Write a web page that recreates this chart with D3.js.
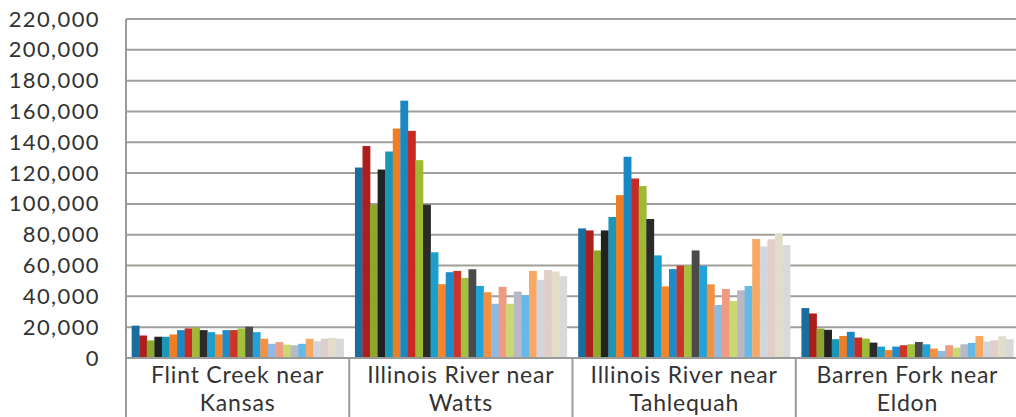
<!DOCTYPE html>
<html>
<head>
<meta charset="utf-8">
<script src="https://cdn.jsdelivr.net/npm/d3@7"></script>
<style>
  body { margin: 0; background: #fff; }
  text { font-family: Lato, "Open Sans", sans-serif; fill: #333; }
</style>
</head>
<body>
<script>
// Chart size
var width = 1016;
var height = 417;

// Sites along the x axis (two-line labels)
var sites = ["Flint Creek near|Kansas", "Illinois River near|Watts", "Illinois River near|Tahlequah", "Barren Fork near|Eldon"];

// One value per series (28 series per site)
var flintCreek = [21000, 14600, 11400, 13800, 13800, 15300, 18100, 19200, 19700, 18100, 16800, 15300, 18100, 18100,
                  19200, 20300, 16800, 12500, 9200, 10300, 8700, 8300, 9200, 12500, 10900, 12500, 13100, 12500];
var watts = [123600, 137600, 99500, 122300, 134000, 148900, 167000, 147400, 128400, 99500, 68600, 47900, 55700, 56500,
             52000, 57600, 46800, 42700, 35200, 46200, 35200, 43100, 40800, 56500, 50700, 57000, 56100, 53100];
var tahlequah = [84100, 82800, 69800, 82800, 91500, 105700, 130600, 116500, 111600, 90200, 66600, 46500, 57700, 59900,
                 59900, 69800, 59900, 47800, 34400, 44800, 37000, 43900, 46700, 77200, 72400, 77000, 80600, 73300];
var barrenFork = [32400, 28900, 19100, 18300, 12200, 14300, 17000, 13300, 12600, 10000, 7400, 5200, 7400, 8300,
                  8900, 10400, 8900, 6100, 4600, 8300, 6700, 8900, 9800, 14300, 10700, 11500, 14100, 12200];

// Series colours
var colors = ["#1b6d9e", "#ad1f1c", "#8ba82c", "#222222", "#1a97b6", "#ef7d24",
              "#1a88c4", "#c72a22", "#9dbb32", "#2b2b2b", "#1ba0cd", "#f4852a",
              "#1c8dca", "#cb3427", "#a2c23e", "#4a4a4a", "#23a2d9", "#f59040",
              "#8db9e2", "#ee9b82", "#c9d96f", "#b9b8c6", "#63b9e8", "#f8a862",
              "#d2d5dc", "#e1cdc9", "#e2ddc8", "#d9d9d9"];

var yTicks = d3.range(0, 220001, 20000);

var seriesValues = [flintCreek, watts, tahlequah, barrenFork];
var seriesIdx = d3.range(flintCreek.length);

var margin = { top: 19, right: 0, bottom: 59, left: 126 };

var svg = d3.select("body")
            .append("svg")
            .attr("width", width)
            .attr("height", height);

var x0 = d3.scaleBand()
           .domain(sites)
           .range([margin.left, width + 3]);

var x1 = d3.scaleBand()
           .domain(seriesIdx)
           .range([0, x0.bandwidth()])
           .paddingInner(0)
           .paddingOuter(0.75);

var y = d3.scaleLinear()
          .domain([0, 220000])
          .range([height - margin.bottom, margin.top]);

// Gridlines
svg.append("g")
   .selectAll("line")
   .data(yTicks)
   .enter()
   .append("line")
   .attr("x1", margin.left)
   .attr("x2", width)
   .attr("y1", function(d) { return y(d); })
   .attr("y2", function(d) { return y(d); })
   .style("stroke", "#a19f9a")
   .style("stroke-width", 2);

// Y axis labels
var yAxis = d3.axisLeft(y)
              .tickValues(yTicks)
              .tickFormat(d3.format(","))
              .tickSize(0)
              .tickPadding(26);

svg.append("g")
   .attr("transform", "translate(" + margin.left + ",0)")
   .call(yAxis)
   .call(function(g) { g.select(".domain").remove(); })
   .selectAll("text")
   .style("font-size", "22px")
   .style("letter-spacing", "1.4px")
   .style("fill", "#333");

// Bars
var groups = svg.append("g")
                .selectAll("g")
                .data(sites)
                .enter()
                .append("g")
                .attr("transform", function(d) { return "translate(" + x0(d) + ",0)"; });

groups.selectAll("rect")
      .data(function(d, i) { return seriesValues[i]; })
      .enter()
      .append("rect")
      .attr("x", function(d, j) { return x1(j); })
      .attr("width", x1.bandwidth() + 0.3)
      .attr("y", function(d) { return y(d); })
      .attr("height", function(d) { return y(0) - y(d); })
      .style("fill", function(d, j) { return colors[j]; });

// Left axis line and bottom axis line
svg.append("line")
   .attr("x1", margin.left).attr("x2", margin.left)
   .attr("y1", margin.top).attr("y2", height)
   .style("stroke", "#9a9a9a").style("stroke-width", 2);

svg.append("line")
   .attr("x1", margin.left).attr("x2", width)
   .attr("y1", y(0)).attr("y2", y(0))
   .style("stroke", "#9a9a9a").style("stroke-width", 2);

// Category separators
svg.append("g")
   .selectAll("line")
   .data(sites.slice(1))
   .enter()
   .append("line")
   .attr("x1", function(d) { return x0(d); })
   .attr("x2", function(d) { return x0(d); })
   .attr("y1", y(0))
   .attr("y2", height)
   .style("stroke", "#9a9a9a")
   .style("stroke-width", 2);

// Category labels
var labels = svg.append("g")
                .selectAll("text")
                .data(sites)
                .enter()
                .append("text")
                .attr("text-anchor", "middle")
                .style("font-size", "23px")
                .style("letter-spacing", "0.8px")
                .attr("x", function(d) { return x0(d) + x0.bandwidth() / 2; })
                .attr("y", 383);

labels.selectAll("tspan")
      .data(function(d) { return d.split("|"); })
      .enter()
      .append("tspan")
      .attr("x", function() { return d3.select(this.parentNode).attr("x"); })
      .attr("dy", function(d, i) { return i === 0 ? 0 : 28; })
      .text(function(d) { return d; });
</script>
</body>
</html>
